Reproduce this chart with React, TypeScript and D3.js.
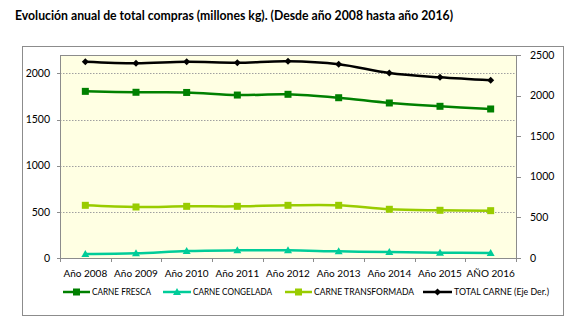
import React from "react";
import * as d3 from "d3";

const years = ["Año 2008", "Año 2009", "Año 2010", "Año 2011", "Año 2012", "Año 2013", "Año 2014", "Año 2015", "AÑO 2016"];
const fresca = [1806, 1796, 1794, 1766, 1774, 1737, 1680, 1644, 1615];
const congelada = [43, 51, 76, 83, 83, 72, 65, 58, 54];
const transformada = [571, 553, 560, 560, 571, 571, 528, 517, 513];
const total = [2417, 2398, 2417, 2405, 2422, 2385, 2278, 2225, 2188];
const leftTicks = [0, 500, 1000, 1500, 2000];
const rightTicks = [0, 500, 1000, 1500, 2000, 2500];

const FONT = "Lato, 'Open Sans', sans-serif";

export default function App() {
  const W = 587, H = 334;
  const L = 60, R = 516, T = 55, B = 258;
  const x = d3.scaleBand<string>().domain(years).range([L, R]);
  const cx = (i: number) => (x(years[i]) as number) + x.bandwidth() / 2;
  const yL = d3.scaleLinear().domain([0, 2200]).range([B, T]);
  const yR = d3.scaleLinear().domain([0, 2500]).range([B, T]);
  const line = (vals: number[], y: d3.ScaleLinear<number, number>) =>
    d3.line<number>().x((_, i) => cx(i)).y((v) => y(v)).curve(d3.curveCatmullRom.alpha(0.5))(vals) as string;

  const series = [
    { name: "CARNE FRESCA", vals: fresca, y: yL, color: "#008000", marker: "square" },
    { name: "CARNE CONGELADA", vals: congelada, y: yL, color: "#00CC99", marker: "triangle" },
    { name: "CARNE TRANSFORMADA", vals: transformada, y: yL, color: "#99CC00", marker: "square" },
    { name: "TOTAL CARNE (Eje Der.)", vals: total, y: yR, color: "#000000", marker: "diamond" },
  ];

  const marker = (m: string, px: number, py: number, color: string, key: any) => {
    if (m === "square") return <rect key={key} x={px - 3.5} y={py - 3.5} width={7} height={7} fill={color} />;
    if (m === "triangle") return <path key={key} d={`M${px},${py - 4}L${px + 4},${py + 3}L${px - 4},${py + 3}Z`} fill={color} />;
    return <path key={key} d={`M${px},${py - 3.5}L${px + 3.5},${py}L${px},${py + 3.5}L${px - 3.5},${py}Z`} fill={color} />;
  };

  const legendPos = [
    { lx: 63, tx: 92, tw: 59 },
    { lx: 163, tx: 193, tw: 79 },
    { lx: 285, tx: 314, tw: 100 },
    { lx: 423, tx: 454, tw: 95 },
  ];
  const legendY = 292;

  return (
    <svg width={W} height={H} style={{ position: "absolute", left: 0, top: 0 }} fontFamily={FONT}>
      <rect x={0} y={0} width={W} height={H} fill="#ffffff" />
      <text x={15} y={20} fontSize={14} fontWeight="bold" fill="#000" textLength={438} lengthAdjust="spacingAndGlyphs">
        Evolución anual de total compras (millones kg). (Desde año 2008 hasta año 2016)
      </text>
      <rect x={22.5} y={46.5} width={541} height={269} fill="#ffffff" stroke="#8c8c8c" strokeWidth={1} />
      <rect x={L} y={T} width={R - L} height={B - T} fill="#FFFFE3" />
      {leftTicks.filter((t) => t > 0).map((t) => (
        <line key={t} x1={L} x2={R} y1={Math.round(yL(t)) + 0.5} y2={Math.round(yL(t)) + 0.5} stroke="#a0a0a0" strokeDasharray="1.5,1.5" />
      ))}
      <rect x={L + 0.5} y={T + 0.5} width={R - L} height={B - T} fill="none" stroke="#8c8c8c" />
      {leftTicks.map((t) => (
        <g key={t}>
          <line x1={L - 3} x2={L} y1={Math.round(yL(t)) + 0.5} y2={Math.round(yL(t)) + 0.5} stroke="#8c8c8c" />
          <text x={50} y={yL(t)} dy="0.35em" fontSize={10.5} textAnchor="end" fill="#000">{t}</text>
        </g>
      ))}
      {rightTicks.map((t) => (
        <g key={t}>
          <line x1={R} x2={R + 5} y1={Math.round(yR(t)) + 0.5} y2={Math.round(yR(t)) + 0.5} stroke="#8c8c8c" />
          <text x={530} y={yR(t)} dy="0.35em" fontSize={10.5} textAnchor="start" fill="#000">{t}</text>
        </g>
      ))}
      {d3.range(years.length + 1).map((i) => {
        const px = Math.round(L + i * x.bandwidth()) + 0.5;
        return <line key={i} x1={px} x2={px} y1={B} y2={B + 4} stroke="#8c8c8c" />;
      })}
      {years.map((yr, i) => (
        <text key={yr} x={cx(i)} y={277} fontSize={10} textAnchor="middle" fill="#000">{yr}</text>
      ))}
      {series.map((s) => (
        <g key={s.name}>
          <path d={line(s.vals, s.y)} fill="none" stroke={s.color} strokeWidth={2.5} />
          {s.vals.map((v, i) => marker(s.marker, cx(i), s.y(v), s.color, i))}
        </g>
      ))}
      {series.map((s, k) => (
        <g key={s.name}>
          <line x1={legendPos[k].lx} x2={legendPos[k].tx - 2} y1={legendY} y2={legendY} stroke={s.color} strokeWidth={2.5} />
          {marker(s.marker, (legendPos[k].lx + legendPos[k].tx - 2) / 2, legendY, s.color, "m")}
          <text x={legendPos[k].tx} y={legendY} dy="0.35em" fontSize={8.5} fill="#000" textLength={legendPos[k].tw} lengthAdjust="spacingAndGlyphs">{s.name}</text>
        </g>
      ))}
    </svg>
  );
}
